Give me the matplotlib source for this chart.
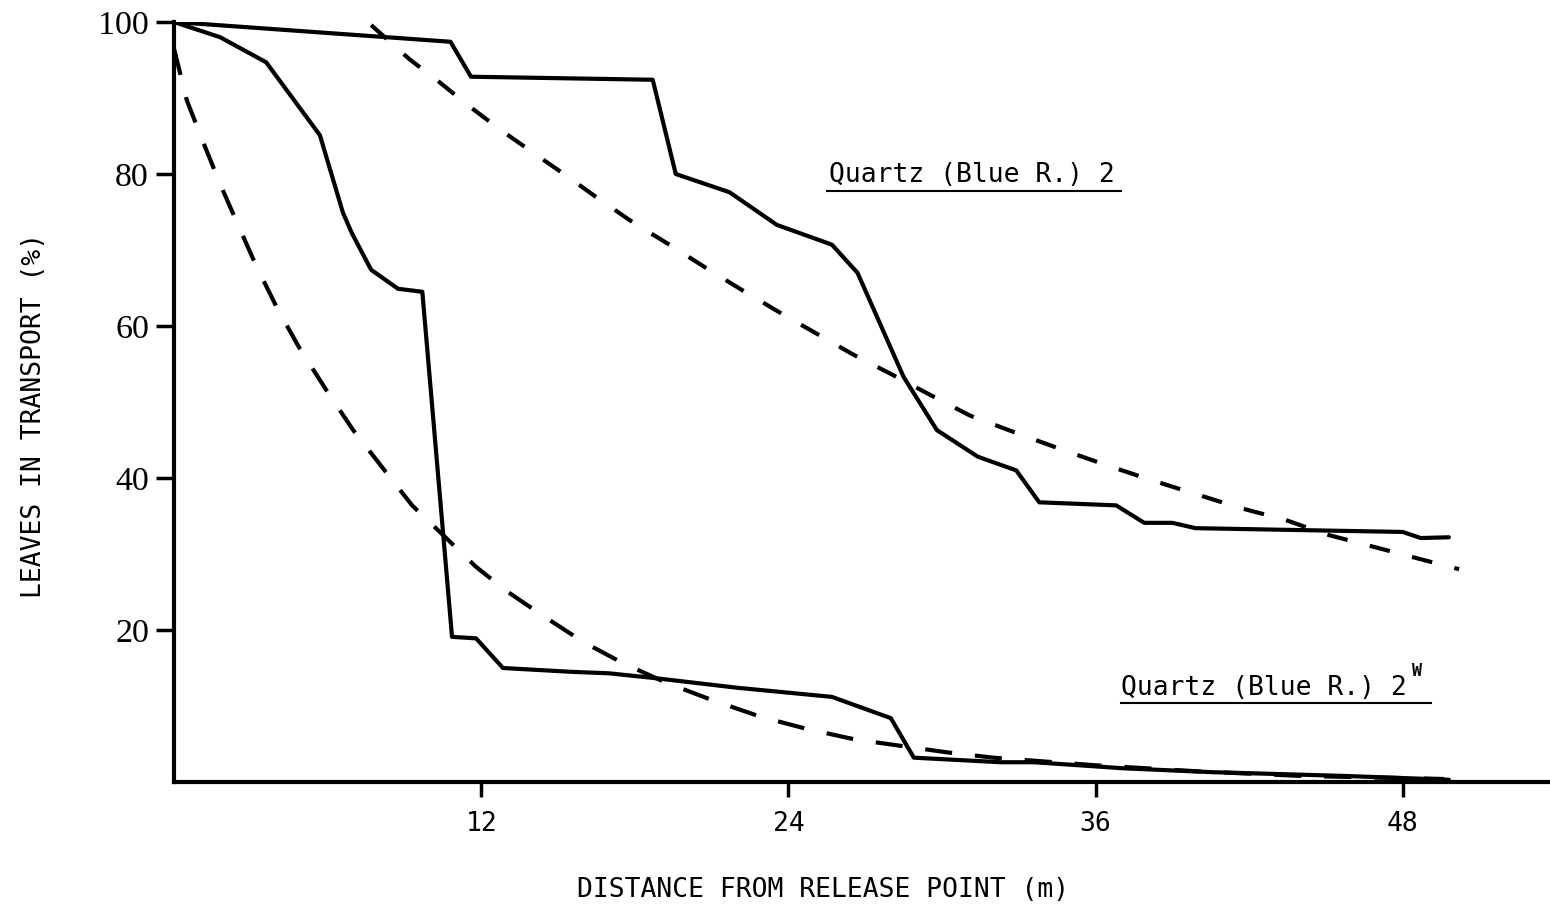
import matplotlib
matplotlib.use("Agg")
import matplotlib.pyplot as plt

# ---- data ----
x_quartz2 = [0, 10.8, 11.6, 18.7, 19.6, 21.7, 23.55, 25.7, 26.7, 28.5, 29.8, 31.4,
             32.9, 33.8, 36.8, 37.9, 39.0, 39.9, 48.0, 48.7, 49.8]
y_quartz2 = [100, 97.4, 92.8, 92.4, 80.0, 77.6, 73.3, 70.7, 67.0, 53.3, 46.3, 42.8,
             41.0, 36.8, 36.4, 34.1, 34.1, 33.4, 32.9, 32.1, 32.2]

x_quartz2w = [0, 1.8, 3.6, 5.7, 6.6, 6.95, 7.7, 8.75, 9.7, 10.86, 11.8, 12.85, 15.5,
              17.0, 18.7, 22.0, 25.7, 28.0, 28.9, 32.3, 33.6, 37.1, 40.5, 45.7, 49.8]
y_quartz2w = [100, 98.0, 94.7, 85.1, 74.9, 72.2, 67.4, 64.9, 64.5, 19.1, 18.9, 15.0, 14.5,
              14.3, 13.7, 12.4, 11.2, 8.4, 3.2, 2.6, 2.6, 1.8, 1.3, 0.8, 0.3]

x_fit2 = [7.7, 9.2, 10.4, 11.5, 12.8, 14.2, 15.4, 16.6, 17.9, 19.4, 20.8, 22.3, 23.8,
          25.1, 26.5, 28.0, 29.5, 31.1, 33.0, 34.8, 36.5, 38.2, 40.0, 41.6, 43.4, 45.1,
          46.8, 48.6, 50.2]
y_fit2 = [99.6, 95.1, 92.0, 89.0, 85.7, 82.4, 79.6, 76.7, 73.7, 70.6, 67.6, 64.5, 61.5,
          59.0, 56.3, 53.7, 51.0, 48.2, 45.8, 43.6, 41.6, 39.7, 37.8, 36.1, 34.5, 32.5,
          31.0, 29.4, 28.0]

x_fit2w = [0.0, 0.5, 1.15, 1.8, 2.45, 3.2, 4.05, 4.9, 6.0, 7.0, 8.25, 9.3, 10.6, 11.8,
           13.0, 14.4, 16.0, 17.5, 19.2, 21.0, 22.9, 24.7, 26.6, 28.3, 30.2, 32.0, 36.0,
           40.0, 44.0, 49.6]
y_fit2w = [96.5, 89.7, 84.1, 78.7, 73.7, 68.0, 62.2, 57.1, 51.3, 46.3, 40.9, 36.4, 32.2,
           28.3, 25.1, 21.9, 18.4, 15.7, 13.1, 10.8, 8.6, 7.0, 5.6, 4.8, 3.9, 3.2, 2.2,
           1.4, 0.8, 0.4]

x_ticks = [12, 24, 36, 48]
y_ticks = [20, 40, 60, 80, 100]
label_2 = "Quartz (Blue R.) 2"
label_2w = "Quartz (Blue R.) 2"
xlabel = "DISTANCE FROM RELEASE POINT (m)"
ylabel = "LEAVES IN TRANSPORT (%)"

MONO = "DejaVu Sans Mono"
SERIF = "Liberation Serif"

fig = plt.figure(figsize=(15.5, 9.09), dpi=100)
ax = fig.add_axes([174 / 1550, 127 / 909, 1 - 174 / 1550, 760 / 909])

lw = 3.0
ax.plot(x_quartz2, y_quartz2, color="black", lw=lw, solid_joinstyle="round", solid_capstyle="round")
ax.plot(x_quartz2w, y_quartz2w, color="black", lw=lw, solid_joinstyle="round", solid_capstyle="round")
ax.plot(x_fit2, y_fit2, color="black", lw=lw, dashes=(5.0, 5.5), dash_capstyle="butt")
ax.plot(x_fit2w, y_fit2w, color="black", lw=lw, dashes=(6.5, 5.5), dash_capstyle="butt")

ax.set_xlim(0, 53.75)
ax.set_ylim(0, 100)
for s in ("top", "right"):
    ax.spines[s].set_visible(False)
for s in ("left", "bottom"):
    ax.spines[s].set_linewidth(3.0)

ax.set_xticks(x_ticks)
ax.set_xticklabels([str(t) for t in x_ticks], fontfamily=MONO, fontsize=19)
ax.set_yticks(y_ticks)
ax.set_yticklabels([str(t) for t in y_ticks], fontfamily=SERIF, fontsize=24.5)
ax.tick_params(axis="x", direction="out", length=11, width=2.5, pad=10)
ax.tick_params(axis="y", direction="out", length=13, width=2.5, pad=5)

fig.text(823 / 1550, 1 - 890 / 909, xlabel, fontfamily=MONO, fontsize=19,
         ha="center", va="center")
fig.text(34 / 1550, 1 - 415 / 909, ylabel, fontfamily=MONO, fontsize=19,
         ha="center", va="center", rotation=90)

# series labels with underline
ax.text(25.6, 79.9, label_2, fontfamily=MONO, fontsize=19, ha="left", va="center")
ax.plot([25.5, 37.0], [77.8, 77.8], color="black", lw=1.5)
ax.text(37.0, 12.4, label_2w, fontfamily=MONO, fontsize=19, ha="left", va="center")
ax.text(48.35, 14.6, "W", fontfamily=MONO, fontsize=12, fontweight="bold", ha="left", va="center")
ax.plot([37.0, 49.1], [10.4, 10.4], color="black", lw=1.5)

fig.savefig("out.png", dpi=100)
